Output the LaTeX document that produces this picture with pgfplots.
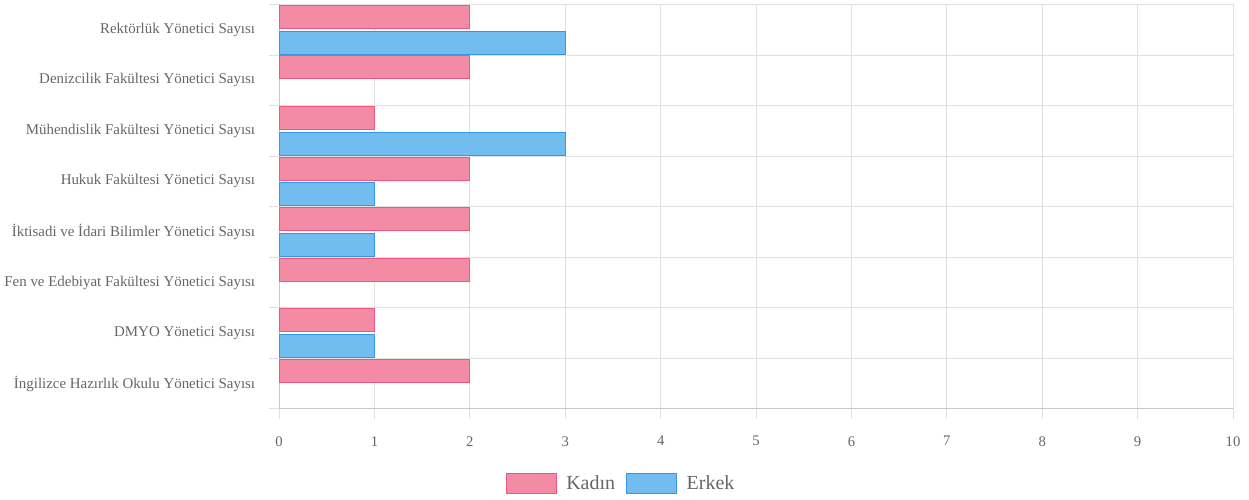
\documentclass[border=0pt]{standalone}
\usepackage{pgfplots}
\pgfplotsset{compat=1.18}
\usepackage{fontspec}
\setmainfont{Liberation Serif}
\definecolor{kfill}{RGB}{243,139,165}
\definecolor{kdraw}{RGB}{236,88,128}
\definecolor{efill}{RGB}{114,189,240}
\definecolor{edraw}{RGB}{54,152,228}
\definecolor{gridgray}{RGB}{224,224,224}
\definecolor{axisgray}{RGB}{200,200,200}
\definecolor{textgray}{RGB}{102,102,102}
\pgfplotsset{boxlegend/.style={legend image code/.code={\draw[##1] (0pt,-7.5pt) rectangle (37.5pt,7.5pt);}}}
\begin{document}
\begin{tikzpicture}
\begin{axis}[
    scale only axis,
    width=716.25pt, height=303.75pt,
    xbar,
    xmin=0, xmax=10,
    ymin=-0.5, ymax=7.5,
    y dir=reverse,
    xtick={0,...,10},
    ytick={-0.5,0.5,...,7.5},
    yticklabels={},
    extra y ticks={0,...,7},
    extra y tick labels={Rektörlük Yönetici Sayısı, Denizcilik Fakültesi Yönetici Sayısı, Mühendislik Fakültesi Yönetici Sayısı, Hukuk Fakültesi Yönetici Sayısı, İktisadi ve İdari Bilimler Yönetici Sayısı, Fen ve Edebiyat Fakültesi Yönetici Sayısı, DMYO Yönetici Sayısı, İngilizce Hazırlık Okulu Yönetici Sayısı},
    extra y tick style={grid=none, major tick length=0pt, yticklabel style={xshift=-14.5pt}},
    grid=major,
    grid style={draw=gridgray, line width=0.75pt},
    axis x line*=bottom, axis y line*=left,
    axis line style={draw=axisgray, line width=0.75pt, -},
    tick align=outside,
    major tick length=7.5pt,
    tick style={draw=gridgray, line width=0.75pt},
    ticklabel style={text=textgray},
    xticklabel style={font=\fontsize{11}{13}\selectfont, yshift=-9.5pt},
    yticklabel style={font=\fontsize{11.2}{14}\selectfont},
    /pgf/number format/assume math mode=true,
    legend columns=2,
    legend style={draw=none, at={(0.359,-0.185)}, anchor=center,
        font=\fontsize{15}{18}\selectfont, text=textgray,
        /tikz/every odd column/.append style={column sep=5pt},
        /tikz/every even column/.append style={column sep=6.5pt}},
]
\addplot[boxlegend, bar width=0.455, bar shift=-0.255, fill=kfill, draw=kdraw, line width=0.75pt]
    coordinates {(2,0) (2,1) (1,2) (2,3) (2,4) (2,5) (1,6) (2,7)};
\addlegendentry{Kadın}
\addplot[boxlegend, bar width=0.455, bar shift=0.255, fill=efill, draw=edraw, line width=0.75pt]
    coordinates {(3,0) (3,2) (1,3) (1,4) (1,6)};
\addlegendentry{Erkek}
\end{axis}
\path (current axis.south west) ++(-208.5pt,-68.25pt);
\path (current axis.north east) ++(12pt,3pt);
\end{tikzpicture}
\end{document}
